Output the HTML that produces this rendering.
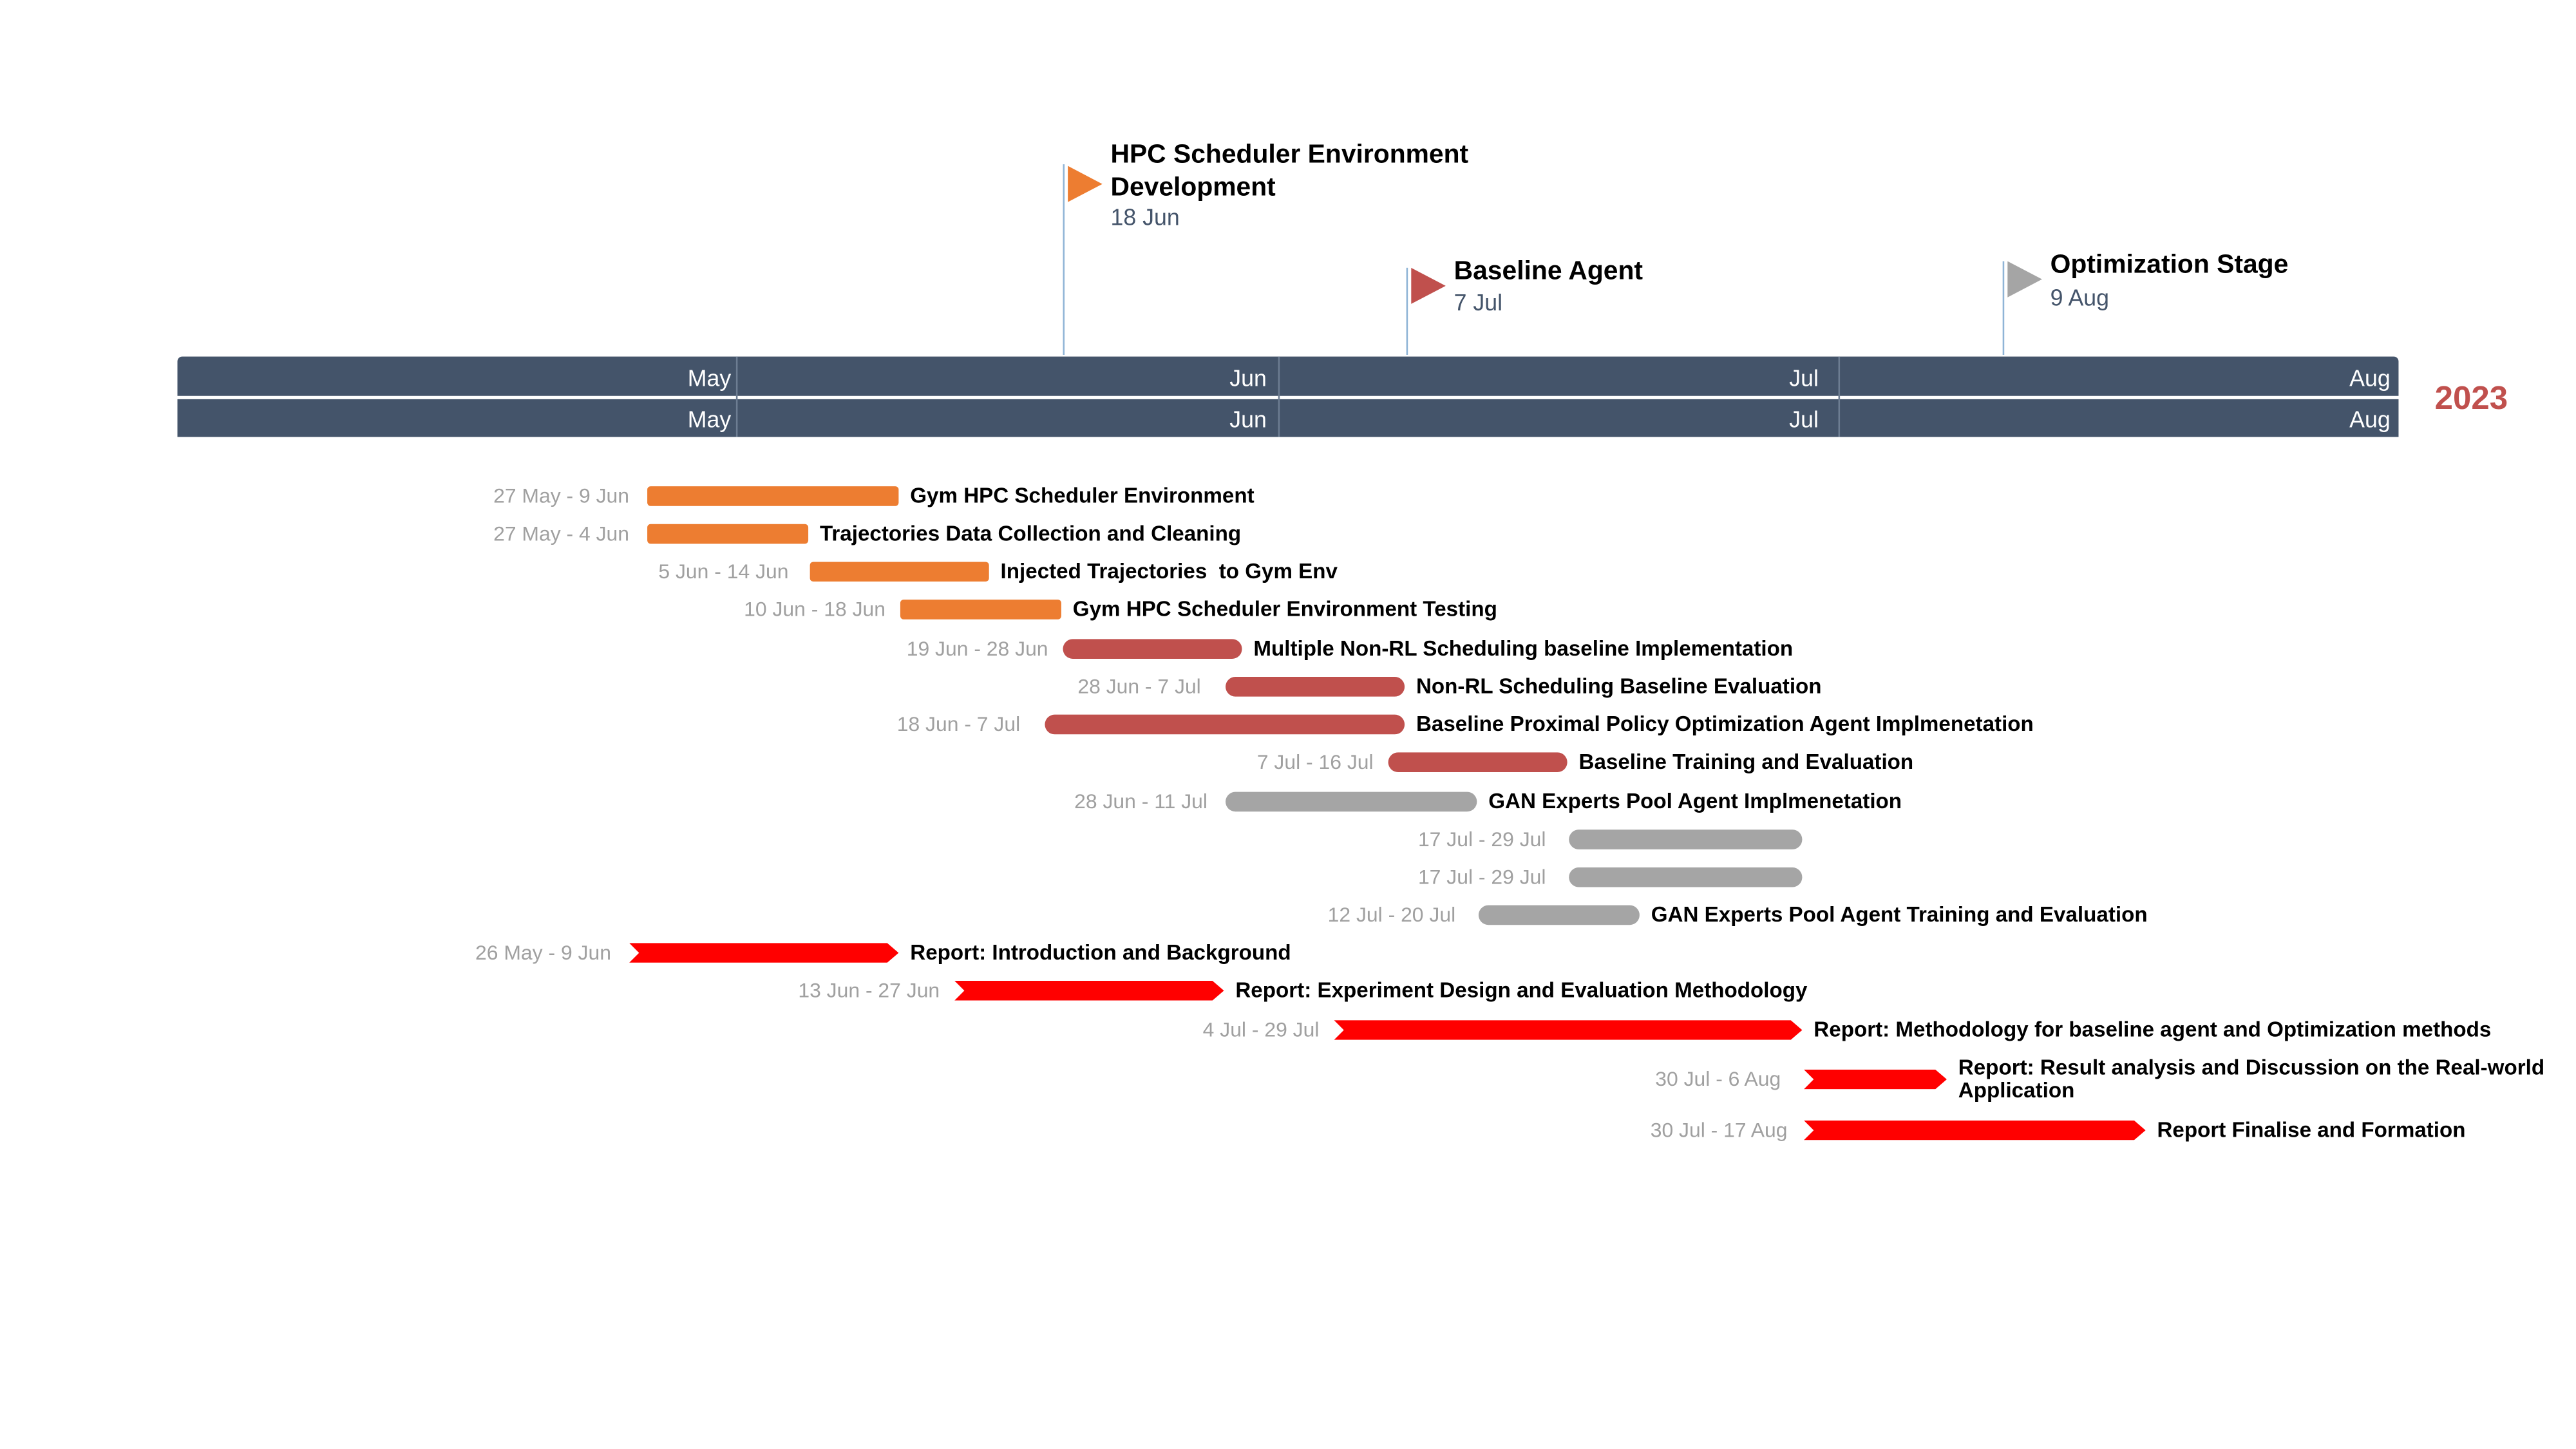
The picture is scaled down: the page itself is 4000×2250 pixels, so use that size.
<!DOCTYPE html>
<html><head><meta charset="utf-8"><style>
html,body{margin:0;padding:0;background:#fff;}
body{width:4000px;height:2250px;overflow:hidden;position:relative;}
#c{position:absolute;left:0;top:0;width:1570px;height:882px;transform:scale(2.551);transform-origin:0 0;font-family:"Liberation Sans",Arial,sans-serif;}
.a{position:absolute;white-space:nowrap;}
.bar{position:absolute;height:12px;}
.o{background:#ed7d31;border-radius:2px;}
.r{background:#c0504d;border-radius:6px;}
.g{background:#a5a5a5;border-radius:6px;}
.v{background:#ff0000;clip-path:polygon(0 0,calc(100% - 7px) 0,100% 50%,calc(100% - 7px) 100%,0 100%,6px 50%);}
.d{position:absolute;font-size:12.5px;color:#a0a0a0;text-align:right;width:200px;line-height:14px;}
.l{position:absolute;font-size:13px;font-weight:bold;color:#000;line-height:14px;white-space:nowrap;}
.m{position:absolute;color:#fff;font-size:14px;line-height:16px;text-align:right;width:80px;}
</style></head><body><div id="c">
<div class="a" style="left:108px;top:217px;width:1352px;height:24px;background:#44546a;border-radius:3px 3px 0 0;"></div>
<div class="a" style="left:108px;top:243px;width:1352px;height:23px;background:#44546a;"></div>
<div class="a" style="left:448px;top:217px;width:1px;height:49px;background:#6d7d92;"></div>
<div class="a" style="left:778px;top:217px;width:1px;height:49px;background:#6d7d92;"></div>
<div class="a" style="left:1119px;top:217px;width:1px;height:49px;background:#6d7d92;"></div>
<div class="m" style="left:365px;top:222px;">May</div>
<div class="m" style="left:691px;top:222px;">Jun</div>
<div class="m" style="left:1027px;top:222px;">Jul</div>
<div class="m" style="left:1375px;top:222px;">Aug</div>
<div class="m" style="left:365px;top:247px;">May</div>
<div class="m" style="left:691px;top:247px;">Jun</div>
<div class="m" style="left:1027px;top:247px;">Jul</div>
<div class="m" style="left:1375px;top:247px;">Aug</div>
<div class="a" style="left:1482px;top:232px;font-size:20px;font-weight:bold;color:#c0504d;line-height:22px;">2023</div>
<div class="a" style="left:647px;top:100px;width:1px;height:116px;background:#8fb4d6;"></div>
<div class="a" style="left:650px;top:101px;width:0;height:0;border-top:11px solid transparent;border-bottom:11px solid transparent;border-left:21px solid #ed7d31;"></div>
<div class="a" style="left:676px;top:85px;font-size:16px;font-weight:bold;line-height:19.5px;">HPC Scheduler Environment<br>Development</div>
<div class="a" style="left:676px;top:124px;font-size:14px;color:#44546a;line-height:16px;">18 Jun</div>
<div class="a" style="left:856px;top:163px;width:1px;height:53px;background:#8fb4d6;"></div>
<div class="a" style="left:859px;top:163px;width:0;height:0;border-top:11px solid transparent;border-bottom:11px solid transparent;border-left:21px solid #c0504d;"></div>
<div class="a" style="left:885px;top:156px;font-size:16px;font-weight:bold;line-height:19px;">Baseline Agent</div>
<div class="a" style="left:885px;top:176px;font-size:14px;color:#44546a;line-height:16px;">7 Jul</div>
<div class="a" style="left:1219px;top:159px;width:1px;height:57px;background:#8fb4d6;"></div>
<div class="a" style="left:1222px;top:159px;width:0;height:0;border-top:11px solid transparent;border-bottom:11px solid transparent;border-left:21px solid #a5a5a5;"></div>
<div class="a" style="left:1248px;top:152px;font-size:16px;font-weight:bold;line-height:19px;">Optimization Stage</div>
<div class="a" style="left:1248px;top:173px;font-size:14px;color:#44546a;line-height:16px;">9 Aug</div>
<div class="d" style="left:183px;top:295px;">27 May - 9 Jun</div><div class="bar o" style="left:394px;top:296px;width:153px;"></div><div class="l" style="left:554px;top:295px;">Gym HPC Scheduler Environment</div>
<div class="d" style="left:183px;top:318px;">27 May - 4 Jun</div><div class="bar o" style="left:394px;top:319px;width:98px;"></div><div class="l" style="left:499px;top:318px;">Trajectories Data Collection and Cleaning</div>
<div class="d" style="left:280px;top:341px;">5 Jun - 14 Jun</div><div class="bar o" style="left:493px;top:342px;width:109px;"></div><div class="l" style="left:609px;top:341px;">Injected Trajectories&nbsp; to Gym Env</div>
<div class="d" style="left:339px;top:364px;">10 Jun - 18 Jun</div><div class="bar o" style="left:548px;top:365px;width:98px;"></div><div class="l" style="left:653px;top:364px;">Gym HPC Scheduler Environment Testing</div>
<div class="d" style="left:438px;top:388px;">19 Jun - 28 Jun</div><div class="bar r" style="left:647px;top:389px;width:109px;"></div><div class="l" style="left:763px;top:388px;">Multiple Non-RL Scheduling baseline Implementation</div>
<div class="d" style="left:531px;top:411px;">28 Jun - 7 Jul</div><div class="bar r" style="left:746px;top:412px;width:109px;"></div><div class="l" style="left:862px;top:411px;">Non-RL Scheduling Baseline Evaluation</div>
<div class="d" style="left:421px;top:434px;">18 Jun - 7 Jul</div><div class="bar r" style="left:636px;top:435px;width:219px;"></div><div class="l" style="left:862px;top:434px;">Baseline Proximal Policy Optimization Agent Implmenetation</div>
<div class="d" style="left:636px;top:457px;">7 Jul - 16 Jul</div><div class="bar r" style="left:845px;top:458px;width:109px;"></div><div class="l" style="left:961px;top:457px;">Baseline Training and Evaluation</div>
<div class="d" style="left:535px;top:481px;">28 Jun - 11 Jul</div><div class="bar g" style="left:746px;top:482px;width:153px;"></div><div class="l" style="left:906px;top:481px;">GAN Experts Pool Agent Implmenetation</div>
<div class="d" style="left:741px;top:504px;">17 Jul - 29 Jul</div><div class="bar g" style="left:955px;top:505px;width:142px;"></div>
<div class="d" style="left:741px;top:527px;">17 Jul - 29 Jul</div><div class="bar g" style="left:955px;top:528px;width:142px;"></div>
<div class="d" style="left:686px;top:550px;">12 Jul - 20 Jul</div><div class="bar g" style="left:900px;top:551px;width:98px;"></div><div class="l" style="left:1005px;top:550px;">GAN Experts Pool Agent Training and Evaluation</div>
<div class="d" style="left:172px;top:573px;">26 May - 9 Jun</div><div class="bar v" style="left:383px;top:574px;width:164px;"></div><div class="l" style="left:554px;top:573px;">Report: Introduction and Background</div>
<div class="d" style="left:372px;top:596px;">13 Jun - 27 Jun</div><div class="bar v" style="left:581px;top:597px;width:164px;"></div><div class="l" style="left:752px;top:596px;">Report: Experiment Design and Evaluation Methodology</div>
<div class="d" style="left:603px;top:620px;">4 Jul - 29 Jul</div><div class="bar v" style="left:812px;top:621px;width:285px;"></div><div class="l" style="left:1104px;top:620px;">Report: Methodology for baseline agent and Optimization methods</div>
<div class="d" style="left:884px;top:650px;">30 Jul - 6 Aug</div><div class="bar v" style="left:1098px;top:651px;width:87px;"></div><div class="l" style="left:1192px;top:643px;">Report: Result analysis and Discussion on the Real-world<br>Application</div>
<div class="d" style="left:888px;top:681px;">30 Jul - 17 Aug</div><div class="bar v" style="left:1098px;top:682px;width:208px;"></div><div class="l" style="left:1313px;top:681px;">Report Finalise and Formation</div>
</div></body></html>
